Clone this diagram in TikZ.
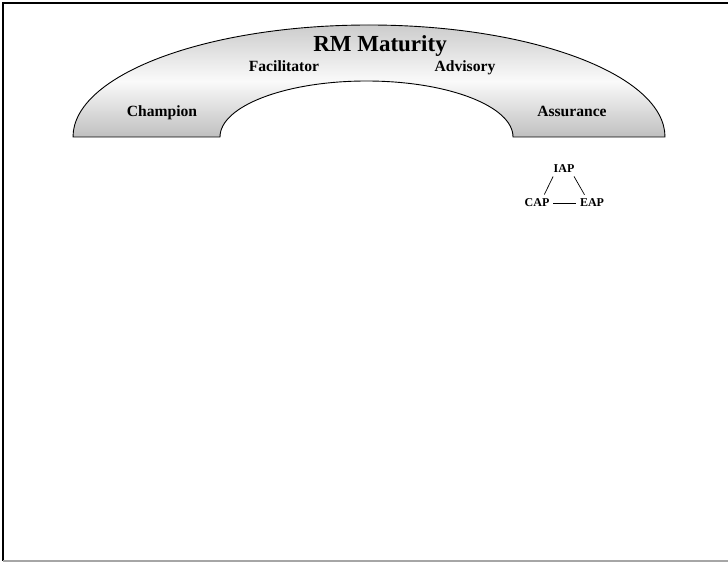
\documentclass[tikz,border=0pt]{standalone}
\usepackage{fontspec}
\setmainfont{Liberation Serif}
\usetikzlibrary{positioning}

\tikzset{
	bandlabel/.style={font=\bfseries\fontsize{15.6}{18}\selectfont, anchor=base, inner sep=0pt},
	roletag/.style={font=\bfseries\fontsize{12}{14}\selectfont, inner sep=1.5pt},
	roleline/.style={line width=0.7pt}
}

\begin{document}
\begin{tikzpicture}[x=1pt, y=1pt]
		% ==================================================
		% 1. parameters
		% ==================================================
		% arch: outer and inner half-ellipses on the base line
		\def\baseY{426}
		\def\outerLeft{73}   \def\outerRX{296} \def\outerRY{112}
		\def\innerRight{513} \def\innerRX{146.5} \def\innerRY{56}

		% colours of the band
		\def\bandTop{gray!40}
		\def\bandMid{gray!4}
		\def\bandBottom{gray!50}
		% ==================================================

		\useasboundingbox (0,0) rectangle (728,563);

		% 2. page frame (left, top, bottom)
		\draw[line width=1.6pt] (728,560) -- (3,560) -- (3,2);
		\draw[line width=1.2pt, gray!70] (3,2) -- (728,2);

		% 3. the arch band
		\shade[top color=\bandTop, bottom color=\bandBottom, middle color=\bandMid]
			(\outerLeft,\baseY) arc[start angle=180, end angle=0, x radius=\outerRX, y radius=\outerRY]
			-- (\innerRight,\baseY) arc[start angle=0, end angle=180, x radius=\innerRX, y radius=\innerRY]
			-- cycle;
		\draw[line width=0.9pt]
			(\outerLeft,\baseY) arc[start angle=180, end angle=0, x radius=\outerRX, y radius=\outerRY]
			-- (\innerRight,\baseY) arc[start angle=0, end angle=180, x radius=\innerRX, y radius=\innerRY]
			-- cycle;

		% 4. labels on the band
		\node[bandlabel, font=\bfseries\fontsize{23}{26}\selectfont] (title) at (380,511) {RM Maturity};
		\node[bandlabel] (facil) at (284,491) {Facilitator};
		\node[bandlabel] (advis) at (465,491) {Advisory};
		\node[bandlabel] (champ) at (162,446) {Champion};
		\node[bandlabel] (assur) at (572,446) {Assurance};

		% 5. the three assurance providers
		\node[roletag] (iap) at (564,394) {IAP};
		\node[roletag] (cap) at (537,360) {CAP};
		\node[roletag] (eap) at (592,360) {EAP};

		\draw[roleline, shorten <=2pt, shorten >=3pt] ([xshift=-10pt]iap.south) -- ([xshift=6pt]cap.north);
		\draw[roleline, shorten <=2pt, shorten >=3pt] ([xshift=9pt]iap.south) -- ([xshift=-6pt]eap.north);
		\draw[roleline, shorten <=2pt, shorten >=2pt] (cap) -- (eap);

	\end{tikzpicture}
\end{document}
